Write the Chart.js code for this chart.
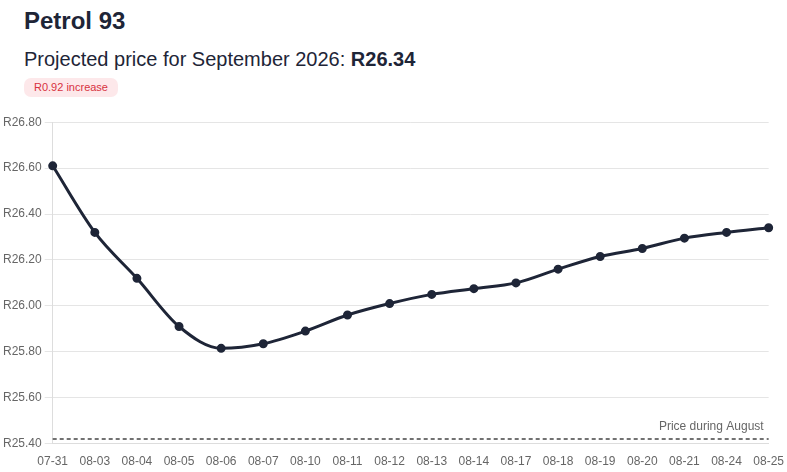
<!DOCTYPE html>
<html>
<head>
<meta charset="utf-8">
<script src="https://cdn.jsdelivr.net/npm/chart.js@4.4.1/dist/chart.umd.min.js"></script>
<style>
  body { margin: 0; background: #fff; font-family: "Liberation Sans", Arial, sans-serif; color: #1e2537; }
  .head { padding: 6px 0 0 24px; }
  h1 { margin: 0; font-size: 24px; font-weight: bold; line-height: 30px; }
  .sub { margin-top: 11px; font-size: 20px; line-height: 24px; }
  .sub b { font-size: 20px; }
  .badge { display: inline-block; margin-top: 7px; background: #fde8ea; color: #d8323f; font-size: 11px;
           padding: 3px 10px; border-radius: 7px; line-height: 13px; }
  .wrap { position: absolute; left: 0; top: 112px; width: 787px; height: 360px; }
</style>
</head>
<body>
<div class="head">
  <h1>Petrol 93</h1>
  <div class="sub">Projected price for September 2026: <b>R26.34</b></div>
  <div class="badge">R0.92 increase</div>
</div>
<div class="wrap"><canvas id="priceChart"></canvas></div>
<script>
// data
var dates = ["07-31", "08-03", "08-04", "08-05", "08-06", "08-07", "08-10", "08-11", "08-12",
             "08-13", "08-14", "08-17", "08-18", "08-19", "08-20", "08-21", "08-24", "08-25"];
var projected = [26.61, 26.32, 26.12, 25.91, 25.815, 25.835, 25.89, 25.96, 26.01,
                 26.05, 26.075, 26.10, 26.16, 26.215, 26.25, 26.295, 26.32, 26.34];
var augustPrice = 25.42;
var augustLabel = "Price during August";

var augustLine = dates.map(function () { return augustPrice; });

// writes the label above the dashed line, right aligned
var augustLabelPlugin = {
     id: 'augustLabel',
     afterDatasetsDraw: function (chart) {
          var ctx = chart.ctx;
          var y = chart.scales.y.getPixelForValue(augustPrice);
          ctx.save();
          ctx.font = '12px "Liberation Sans", Arial, sans-serif';
          ctx.fillStyle = '#666';
          ctx.textAlign = 'right';
          ctx.textBaseline = 'bottom';
          ctx.fillText(augustLabel, chart.chartArea.right - 5, y - 6);
          ctx.restore();
     }
};

var priceCtx = document.getElementById('priceChart').getContext('2d');
window.priceChart = new Chart(priceCtx, {
     type: 'line',
     data: {
          labels: dates,
          datasets: [{
               data: projected,
               borderColor: '#1e2537',
               backgroundColor: '#1e2537',
               borderWidth: 3,
               cubicInterpolationMode: 'monotone',
               pointRadius: 3,
               pointBackgroundColor: '#1e2537'
          }, {
               data: augustLine,
               borderColor: '#444',
               borderWidth: 1.5,
               borderDash: [4, 3],
               pointRadius: 0,
               tension: 0
          }]
     },
     options: {
          responsive: true,
          maintainAspectRatio: false,
          animation: false,
          layout: { padding: { left: 0, right: 18, top: 8, bottom: 0 } },
          plugins: {
               legend: { display: false },
               tooltip: { enabled: false }
          },
          scales: {
               x: {
                    grid: { display: false },
                    border: { color: '#ddd' },
                    ticks: { color: '#666', font: { size: 12, family: '"Liberation Sans", Arial' }, maxRotation: 0, autoSkip: false }
               },
               y: {
                    min: 25.4,
                    max: 26.8,
                    grid: { color: '#e5e5e5' },
                    border: { color: '#ddd' },
                    ticks: {
                         stepSize: 0.2,
                         color: '#666',
                         font: { size: 12, family: '"Liberation Sans", Arial' },
                         callback: function (v) { return 'R' + v.toFixed(2); }
                    }
               }
          }
     },
     plugins: [augustLabelPlugin]
});
</script>
</body>
</html>
